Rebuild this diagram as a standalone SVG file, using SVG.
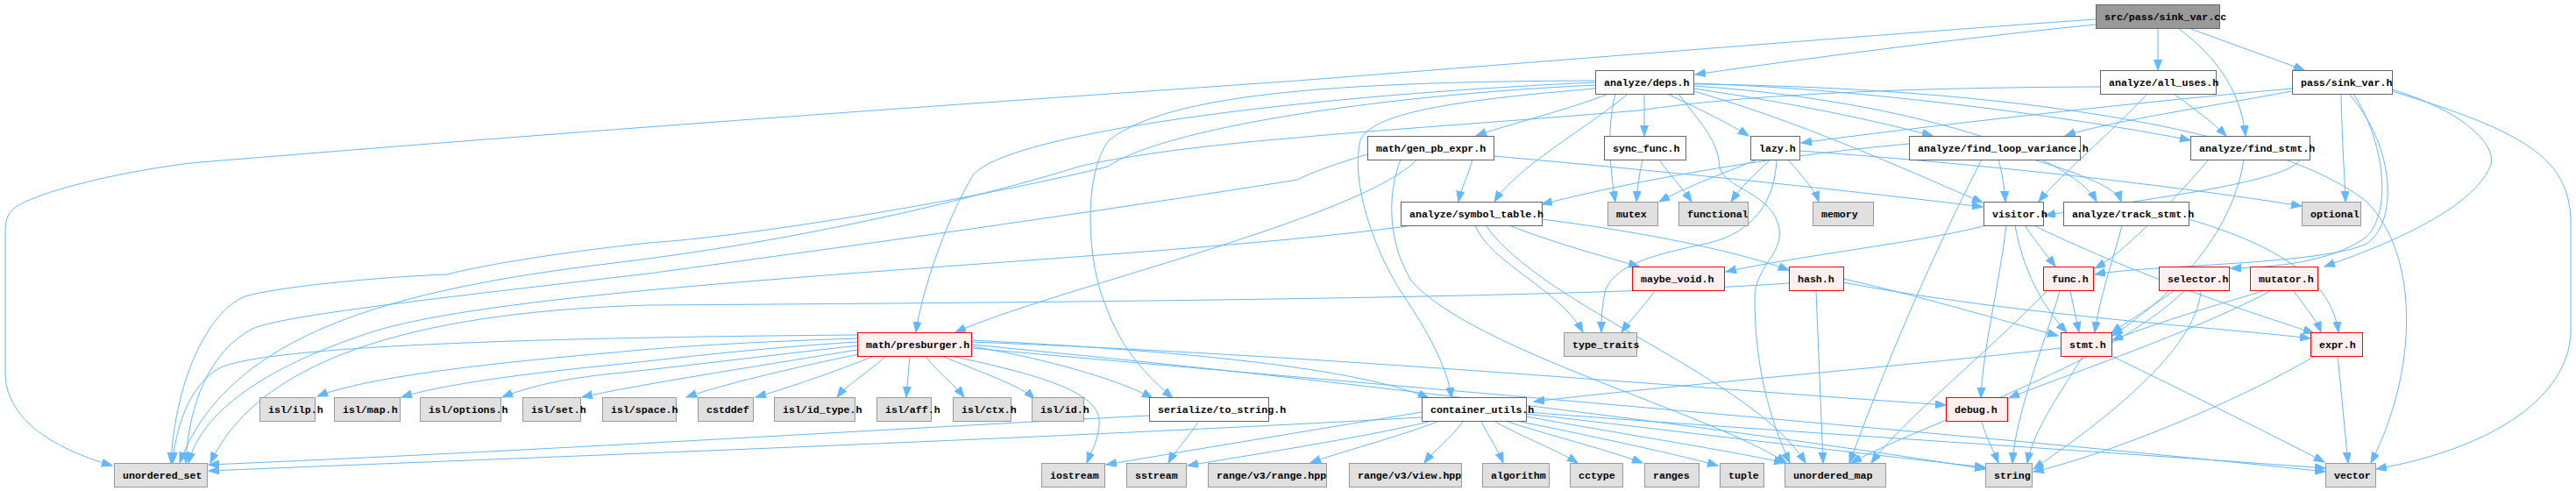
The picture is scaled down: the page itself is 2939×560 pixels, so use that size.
<svg xmlns="http://www.w3.org/2000/svg" width="2939" height="560" viewBox="0 0 2939 560">
<style>
.w{fill:#fff;stroke:#666}
.g{fill:#e0e0e0;stroke:#999}
.r{fill:#fff0f0;stroke:#f00}
.rt{fill:#999;stroke:#666}
text{font-family:"Liberation Mono","DejaVu Sans Mono",monospace;font-size:11.6px;font-weight:bold;fill:#000}
#edges path{fill:none;stroke:#63b8ff;stroke-width:1;marker-end:url(#a)}
</style>
<defs>
<marker id="a" markerWidth="13" markerHeight="10" refX="12" refY="4.5" orient="auto" markerUnits="userSpaceOnUse"><path d="M0,0 L12,4.5 L0,9 z" fill="#63b8ff" stroke="#63b8ff" stroke-width="1"/></marker>
</defs>
<rect width="2939" height="560" fill="#fff"/>
<g id="edges">
<path d="M2391,22 C2200,35 1700,75 1480,92 C1200,112 800,138 217,186 C110,200 40,222 18,236 C8,243 6,252 6,265 L6,425 C6,475 55,510 128,531"/>
<path d="M2391,28 C2250,42 2050,68 1934,85"/>
<path d="M2462,32 L2462,80"/>
<path d="M2485,32 C2525,62 2556,100 2562,155"/>
<path d="M2497,32 L2629,80"/>
<path d="M1835,107 C1790,125 1720,142 1684,155"/>
<path d="M1876,107 L1876,155"/>
<path d="M1902,107 C1940,125 1975,142 1995,155"/>
<path d="M1932,101 C2050,118 2150,140 2205,155"/>
<path d="M1932,95 C2150,102 2400,140 2499,160"/>
<path d="M1932,98 C2150,112 2360,170 2392,230"/>
<path d="M1932,104 C2060,140 2200,205 2262,231"/>
<path d="M1857,107 C1820,140 1730,190 1705,230"/>
<path d="M1843,107 C1832,150 1838,200 1843,230"/>
<path d="M1820,94 C1500,108 1150,150 1110,200 C1080,250 1052,330 1045,379"/>
<path d="M1820,92 C1500,93 1330,110 1265,160 C1235,200 1240,300 1262,350 C1280,400 1310,430 1338,454"/>
<path d="M1820,101 C1650,115 1565,130 1552,160 C1540,210 1570,290 1600,335 C1630,380 1652,420 1656,454"/>
<path d="M1820,97 C1550,110 1320,150 1264,190 C1100,230 850,270 740,277 C620,290 540,305 510,313 C450,315 330,325 283,337 C240,350 200,430 195,528"/>
<path d="M1915,107 C1940,140 1960,160 1962,190 C1965,215 2025,220 2030,262 C2034,290 2002,305 2002,340 C2002,420 2020,480 2042,528"/>
<path d="M1932,96 C2300,100 2600,150 2700,230 C2760,290 2760,420 2705,528"/>
<path d="M2480,107 C2505,125 2525,140 2540,155"/>
<path d="M2450,107 C2410,150 2350,200 2326,230"/>
<path d="M2396,99 C2100,100 1950,114 1870,126 C1700,140 1550,150 1480,157 C1380,165 1280,178 1231,190 C1150,215 950,270 700,300 C450,330 260,380 205,528"/>
<path d="M2615,101 C2400,120 2150,150 2055,163"/>
<path d="M2615,104 C2500,125 2400,140 2356,155"/>
<path d="M2671,107 C2672,160 2675,200 2676,230"/>
<path d="M2685,107 C2720,160 2730,240 2700,270 C2660,300 2590,305 2545,306"/>
<path d="M2680,107 C2735,170 2735,255 2700,278 C2650,302 2450,302 2390,313"/>
<path d="M2729,102 C2820,130 2850,170 2841,190 C2820,240 2720,280 2652,304"/>
<path d="M2729,104 C2880,150 2930,180 2933,250 L2933,380 C2930,450 2850,510 2711,535"/>
<path d="M1680,182 C1675,200 1667,215 1664,230"/>
<path d="M1617,182 C1550,250 1200,330 1090,379"/>
<path d="M1704,178 C1950,200 2150,222 2262,236"/>
<path d="M1560,176 C1530,185 1500,195 1480,205 C1200,250 900,290 740,312 C500,340 320,360 288,375 C240,400 215,460 212,528"/>
<path d="M1598,182 C1585,215 1580,270 1610,320 C1680,400 1950,470 2038,528"/>
<path d="M1874,182 C1870,200 1868,215 1867,230"/>
<path d="M1893,182 C1905,200 1920,215 1930,230"/>
<path d="M2005,182 C1960,200 1920,215 1893,230"/>
<path d="M2020,182 C2000,200 1985,215 1975,230"/>
<path d="M2040,182 C2055,200 2070,215 2075,230"/>
<path d="M2027,182 C2025,230 2000,265 1950,277 C1890,290 1845,300 1832,330 C1827,350 1827,365 1827,379"/>
<path d="M2053,172 C2300,190 2500,215 2626,235"/>
<path d="M2178,164 C2000,180 1850,210 1759,233"/>
<path d="M2280,182 C2285,200 2287,215 2288,230"/>
<path d="M2320,182 C2380,200 2415,215 2420,230"/>
<path d="M2261,182 C2200,300 2150,420 2110,528"/>
<path d="M2624,182 C2610,210 2420,230 2333,246"/>
<path d="M2520,182 C2470,240 2420,290 2390,306"/>
<path d="M2560,182 C2545,280 2460,350 2410,383"/>
<path d="M2421,257 C2410,300 2395,340 2390,379"/>
<path d="M2497,250 C2600,280 2660,320 2668,379"/>
<path d="M2310,257 C2322,275 2336,292 2345,304"/>
<path d="M2289,257 C2280,330 2262,400 2260,454"/>
<path d="M2299,257 C2310,320 2340,360 2358,379"/>
<path d="M2320,257 C2450,320 2580,360 2640,380"/>
<path d="M2266,257 C2200,275 2050,292 1969,310"/>
<path d="M2362,332 L2372,379"/>
<path d="M2350,332 C2330,400 2300,470 2296,528"/>
<path d="M2335,332 C2270,400 2170,480 2135,528"/>
<path d="M2480,332 C2455,350 2425,368 2409,380"/>
<path d="M2511,332 C2505,400 2400,480 2320,535"/>
<path d="M2492,332 C2400,420 2200,480 2112,528"/>
<path d="M2582,332 C2520,350 2450,372 2410,388"/>
<path d="M2617,332 C2630,350 2643,365 2648,379"/>
<path d="M2590,332 C2500,380 2350,430 2292,454"/>
<path d="M2377,405 C2350,450 2320,490 2313,528"/>
<path d="M2407,405 C2500,450 2600,500 2652,527"/>
<path d="M2351,397 C2200,415 1900,440 1750,458"/>
<path d="M2667,405 L2679,528"/>
<path d="M2643,405 C2550,460 2400,520 2320,538"/>
<path d="M2261,481 C2266,500 2275,515 2280,528"/>
<path d="M2103,318 C2200,340 2300,370 2348,383"/>
<path d="M2103,322 C2300,360 2550,375 2636,386"/>
<path d="M2072,332 L2080,528"/>
<path d="M2041,323 C1800,340 1200,345 740,348 C500,355 300,400 240,528"/>
<path d="M1888,332 C1875,350 1860,365 1850,379"/>
<path d="M1722,257 C1780,280 1840,295 1870,304"/>
<path d="M1683,257 C1700,300 1780,330 1806,379"/>
<path d="M1759,250 C1900,268 1990,290 2041,308"/>
<path d="M1695,257 C1760,350 2000,430 2060,528"/>
<path d="M1612,257 C1300,300 600,320 420,380 C300,420 230,470 215,528"/>
<path d="M978,386 C850,390 760,396 700,402 C550,415 420,430 362,452"/>
<path d="M978,390 C850,398 760,410 700,416 C580,428 500,440 458,453"/>
<path d="M980,394 C880,405 760,420 700,426 C640,432 600,442 573,453"/>
<path d="M984,398 C880,415 720,440 664,453"/>
<path d="M990,402 C900,420 820,440 783,453"/>
<path d="M1000,405 C950,425 900,442 862,453"/>
<path d="M1012,405 C990,425 965,440 955,453"/>
<path d="M1038,405 L1034,453"/>
<path d="M1055,405 C1070,425 1090,440 1100,453"/>
<path d="M1072,405 C1120,425 1165,440 1180,455"/>
<path d="M1080,405 C1200,430 1258,450 1254,485 C1252,505 1245,515 1240,528"/>
<path d="M1108,395 C1200,410 1280,435 1315,454"/>
<path d="M978,382 C600,385 300,395 250,420 C215,440 200,490 197,528"/>
<path d="M1108,390 C1500,405 1900,440 2220,462"/>
<path d="M1108,393 C1600,440 2050,500 2265,535"/>
<path d="M1108,397 C1700,450 2300,500 2653,538"/>
<path d="M1108,388 C1350,400 1550,420 1630,454"/>
<path d="M1367,481 C1355,500 1340,515 1333,528"/>
<path d="M1311,474 C1000,490 600,515 238,530"/>
<path d="M1622,470 C1500,490 1350,515 1262,530"/>
<path d="M1630,481 C1550,500 1420,520 1355,531"/>
<path d="M1640,481 C1590,500 1530,515 1495,528"/>
<path d="M1669,481 C1655,500 1635,515 1625,528"/>
<path d="M1690,481 C1700,500 1710,515 1715,528"/>
<path d="M1706,481 C1740,500 1780,515 1800,528"/>
<path d="M1720,481 C1780,500 1840,515 1874,528"/>
<path d="M1735,481 C1830,500 1920,520 1960,531"/>
<path d="M1741,475 C1850,495 1980,515 2036,528"/>
<path d="M1622,476 C1200,500 600,522 238,537"/>
<path d="M1741,470 C2000,490 2400,515 2653,534"/>
<path d="M1741,472 C1900,490 2100,515 2265,533"/>
</g>
<g id="n_root"><rect class="rt" x="2391.5" y="5.5" width="141" height="27"/><text x="2401" y="23">src/pass/sink_var.cc</text></g>
<g id="n_deps"><rect class="w" x="1820.5" y="80.5" width="112" height="27"/><text x="1830" y="98">analyze/deps.h</text></g>
<g id="n_all_uses"><rect class="w" x="2396.5" y="80.5" width="132" height="27"/><text x="2406" y="98">analyze/all_uses.h</text></g>
<g id="n_sink_var_h"><rect class="w" x="2615.5" y="80.5" width="114" height="27"/><text x="2625" y="98">pass/sink_var.h</text></g>
<g id="n_gen_pb"><rect class="w" x="1560.5" y="155.5" width="144" height="27"/><text x="1570" y="173">math/gen_pb_expr.h</text></g>
<g id="n_sync"><rect class="w" x="1830.5" y="155.5" width="93" height="27"/><text x="1840" y="173">sync_func.h</text></g>
<g id="n_lazy"><rect class="w" x="1997.5" y="155.5" width="56" height="27"/><text x="2007" y="173">lazy.h</text></g>
<g id="n_flv"><rect class="w" x="2178.5" y="155.5" width="195" height="27"/><text x="2188" y="173">analyze/find_loop_variance.h</text></g>
<g id="n_find_stmt"><rect class="w" x="2499.5" y="155.5" width="136" height="27"/><text x="2509" y="173">analyze/find_stmt.h</text></g>
<g id="n_symtab"><rect class="w" x="1598.5" y="230.5" width="161" height="27"/><text x="1608" y="248">analyze/symbol_table.h</text></g>
<g id="n_mutex"><rect class="g" x="1834.5" y="230.5" width="57" height="27"/><text x="1844" y="248">mutex</text></g>
<g id="n_functional"><rect class="g" x="1915.5" y="230.5" width="79" height="27"/><text x="1925" y="248">functional</text></g>
<g id="n_memory"><rect class="g" x="2068.5" y="230.5" width="69" height="27"/><text x="2078" y="248">memory</text></g>
<g id="n_visitor"><rect class="w" x="2263.5" y="230.5" width="68" height="27"/><text x="2273" y="248">visitor.h</text></g>
<g id="n_track"><rect class="w" x="2354.5" y="230.5" width="143" height="27"/><text x="2364" y="248">analyze/track_stmt.h</text></g>
<g id="n_optional"><rect class="g" x="2626.5" y="230.5" width="67" height="27"/><text x="2636" y="248">optional</text></g>
<g id="n_maybe_void"><rect class="r" x="1862.5" y="304.5" width="105" height="27"/><text x="1872" y="322">maybe_void.h</text></g>
<g id="n_hash"><rect class="r" x="2041.5" y="304.5" width="62" height="27"/><text x="2051" y="322">hash.h</text></g>
<g id="n_func"><rect class="r" x="2331.5" y="304.5" width="57" height="27"/><text x="2341" y="322">func.h</text></g>
<g id="n_selector"><rect class="r" x="2463.5" y="304.5" width="80" height="27"/><text x="2473" y="322">selector.h</text></g>
<g id="n_mutator"><rect class="r" x="2567.5" y="304.5" width="77" height="27"/><text x="2577" y="322">mutator.h</text></g>
<g id="n_presburger"><rect class="r" x="978.5" y="379.5" width="130" height="27"/><text x="988" y="397">math/presburger.h</text></g>
<g id="n_type_traits"><rect class="g" x="1784.5" y="379.5" width="83" height="27"/><text x="1794" y="397">type_traits</text></g>
<g id="n_stmt"><rect class="r" x="2351.5" y="379.5" width="58" height="27"/><text x="2361" y="397">stmt.h</text></g>
<g id="n_expr"><rect class="r" x="2636.5" y="379.5" width="59" height="27"/><text x="2646" y="397">expr.h</text></g>
<g id="n_isl_ilp"><rect class="g" x="296.5" y="453.5" width="63" height="27"/><text x="306" y="471">isl/ilp.h</text></g>
<g id="n_isl_map"><rect class="g" x="381.5" y="453.5" width="75" height="27"/><text x="391" y="471">isl/map.h</text></g>
<g id="n_isl_options"><rect class="g" x="479.5" y="453.5" width="92" height="27"/><text x="489" y="471">isl/options.h</text></g>
<g id="n_isl_set"><rect class="g" x="596.5" y="453.5" width="66" height="27"/><text x="606" y="471">isl/set.h</text></g>
<g id="n_isl_space"><rect class="g" x="687.5" y="453.5" width="84" height="27"/><text x="697" y="471">isl/space.h</text></g>
<g id="n_cstddef"><rect class="g" x="796.5" y="453.5" width="63" height="27"/><text x="806" y="471">cstddef</text></g>
<g id="n_isl_id_type"><rect class="g" x="883.5" y="453.5" width="92" height="27"/><text x="893" y="471">isl/id_type.h</text></g>
<g id="n_isl_aff"><rect class="g" x="1000.5" y="453.5" width="62" height="27"/><text x="1010" y="471">isl/aff.h</text></g>
<g id="n_isl_ctx"><rect class="g" x="1087.5" y="453.5" width="66" height="27"/><text x="1097" y="471">isl/ctx.h</text></g>
<g id="n_isl_id"><rect class="g" x="1177.5" y="453.5" width="59" height="27"/><text x="1187" y="471">isl/id.h</text></g>
<g id="n_serialize"><rect class="w" x="1311.5" y="453.5" width="136" height="27"/><text x="1321" y="471">serialize/to_string.h</text></g>
<g id="n_container_utils"><rect class="w" x="1622.5" y="453.5" width="119" height="27"/><text x="1632" y="471">container_utils.h</text></g>
<g id="n_debug"><rect class="r" x="2220.5" y="453.5" width="70" height="27"/><text x="2230" y="471">debug.h</text></g>
<g id="n_unordered_set"><rect class="g" x="130.5" y="528.5" width="106" height="27"/><text x="140" y="546">unordered_set</text></g>
<g id="n_iostream"><rect class="g" x="1188.5" y="528.5" width="72" height="27"/><text x="1198" y="546">iostream</text></g>
<g id="n_sstream"><rect class="g" x="1285.5" y="528.5" width="68" height="27"/><text x="1295" y="546">sstream</text></g>
<g id="n_range_hpp"><rect class="g" x="1378.5" y="528.5" width="135" height="27"/><text x="1388" y="546">range/v3/range.hpp</text></g>
<g id="n_view_hpp"><rect class="g" x="1539.5" y="528.5" width="128" height="27"/><text x="1549" y="546">range/v3/view.hpp</text></g>
<g id="n_algorithm"><rect class="g" x="1691.5" y="528.5" width="76" height="27"/><text x="1701" y="546">algorithm</text></g>
<g id="n_cctype"><rect class="g" x="1791.5" y="528.5" width="60" height="27"/><text x="1801" y="546">cctype</text></g>
<g id="n_ranges"><rect class="g" x="1876.5" y="528.5" width="62" height="27"/><text x="1886" y="546">ranges</text></g>
<g id="n_tuple"><rect class="g" x="1962.5" y="528.5" width="50" height="27"/><text x="1972" y="546">tuple</text></g>
<g id="n_unordered_map"><rect class="g" x="2036.5" y="528.5" width="115" height="27"/><text x="2046" y="546">unordered_map</text></g>
<g id="n_string"><rect class="g" x="2265.5" y="528.5" width="53" height="27"/><text x="2275" y="546">string</text></g>
<g id="n_vector"><rect class="g" x="2653.5" y="528.5" width="57" height="27"/><text x="2663" y="546">vector</text></g>
</svg>
